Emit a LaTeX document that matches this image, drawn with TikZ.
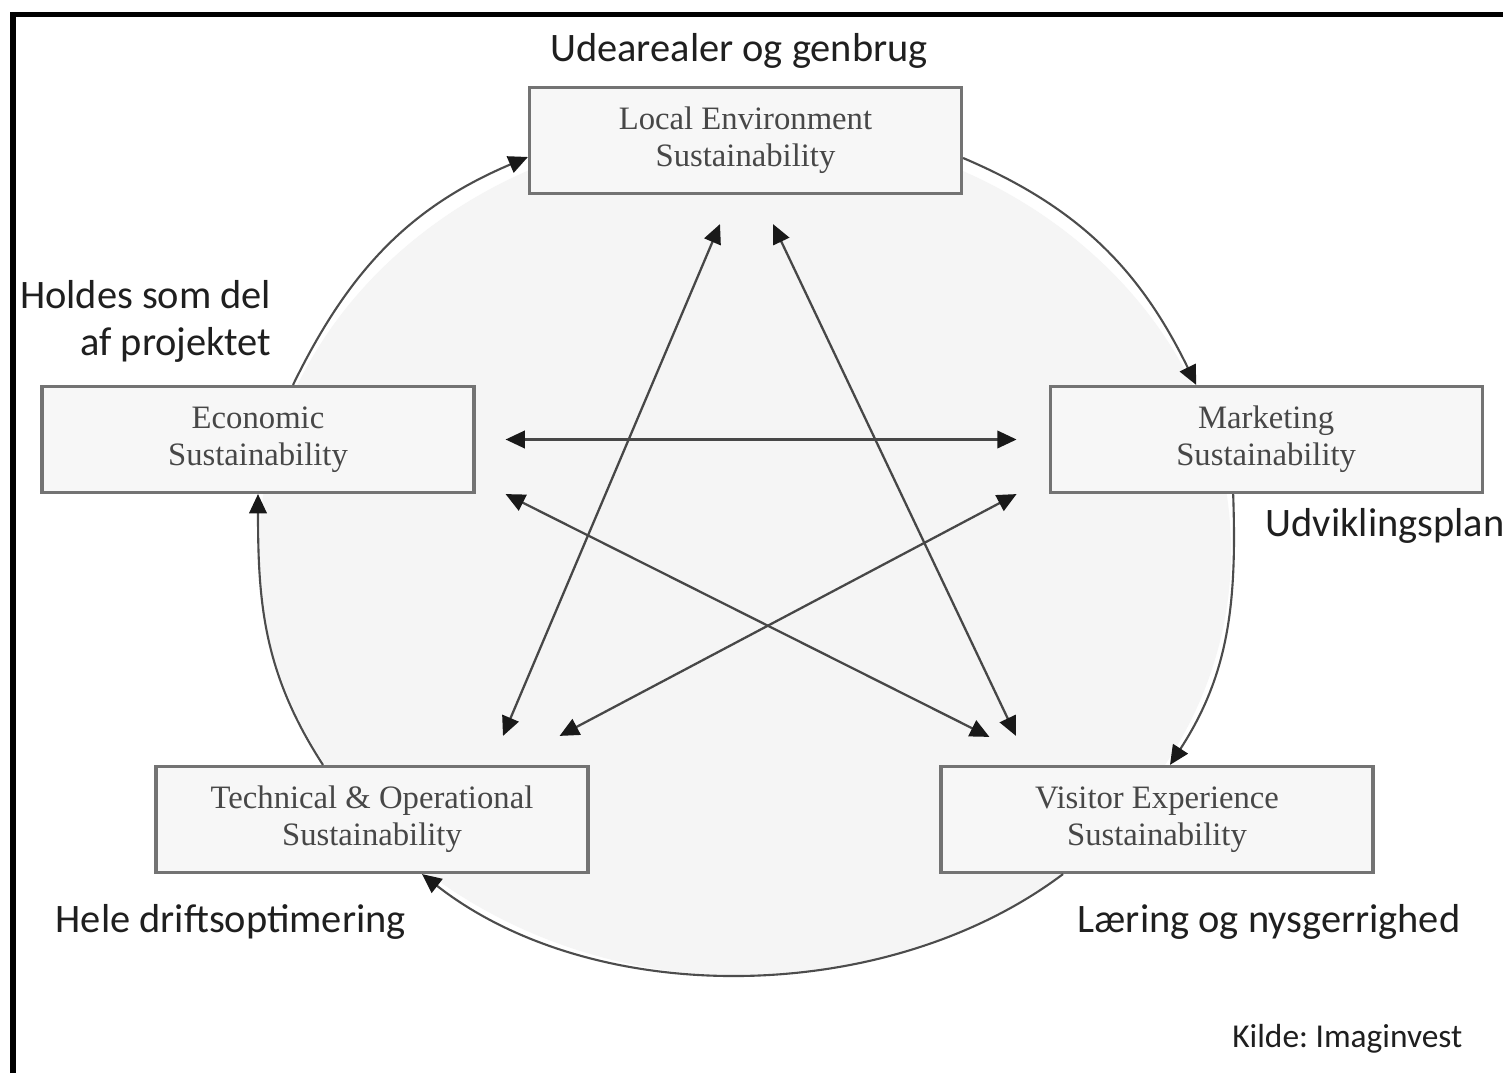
\documentclass[tikz,border=0pt]{standalone}
\usepackage{fontspec}
\setmainfont{Liberation Serif}
\newfontfamily\notefont{Carlito}
\frenchspacing
\usetikzlibrary{arrows.meta, positioning}
\tikzset{> = { Triangle[length = 5.5pt, width = 5pt, color = black!90] }}

\begin{document}
\begin{tikzpicture}[
		box/.style = { draw = black!55, line width = 0.9pt, fill = black!3, minimum width = 4.32cm, minimum height = 1.06cm, inner sep = 0pt, align = center, text = black!72, font = \fontsize{9.3}{10.6}\selectfont },
		loopedge/.style = { ->, draw = black!70, line width = 0.6pt },
		link/.style = { <->, draw = black!72, line width = 0.65pt },
		note/.style = { inner sep = 0pt, text = black!88, font = \notefont\fontsize{11.5}{13.6}\selectfont }]
		\useasboundingbox (0, 0) rectangle (15.03, 10.73);
		\fill [white] (0, 0) rectangle (15.03, 10.73);
		\fill [black!4] (7.45, 5.22) ellipse [x radius = 4.86, y radius = 4.25];

		\node [box]                    (env)   at (7.455, 9.325) {Local Environment\\Sustainability};
		\node [box]                    (econ)  at (2.58, 6.335)  {Economic\\Sustainability};
		\node [box, right = 5.73 of econ] (mark)               {Marketing\\Sustainability};
		\node [box]                    (tech)  at (3.72, 2.535)  {Technical \& Operational\\Sustainability};
		\node [box]                    (visit) at (11.57, 2.535) {Visitor Experience\\Sustainability};

		\draw [loopedge] ([xshift = 0.35cm]econ.north) to [out = 64, in = 203] ([yshift = -0.165cm]env.west);
		\draw [loopedge] ([yshift = -0.175cm]env.east) to [out = -23, in = 116] ([xshift = -0.70cm]mark.north);
		\draw [loopedge] ([xshift = -0.33cm]mark.south) to [out = -88, in = 57] ([xshift = 0.13cm]visit.north);
		\draw [loopedge] ([xshift = -0.94cm]visit.south) to [out = 217, in = -38, looseness = 0.88] ([xshift = 0.50cm]tech.south);
		\draw [loopedge] ([xshift = -0.49cm]tech.north) to [out = 123, in = -90] (econ.south);

		\draw [link] ([xshift = 0.30cm]econ.east) -- ([xshift = -0.32cm]mark.west);
		\draw [link] ([xshift = -0.255cm, yshift = -0.29cm]env.south) -- ([xshift = 1.31cm, yshift = 0.29cm]tech.north);
		\draw [link] ([xshift = 0.275cm, yshift = -0.29cm]env.south) -- ([xshift = -1.41cm, yshift = 0.29cm]visit.north);
		\draw [link] ([xshift = 0.30cm]econ.south east) -- ([xshift = 0.50cm, yshift = 0.28cm]visit.north west);
		\draw [link] ([xshift = -0.32cm]mark.south west) -- ([xshift = -0.30cm, yshift = 0.29cm]tech.north east);

		\node [note, anchor = base]                     (reuse)   at (7.39, 10.11) {Udearealer og genbrug};
		\node [note, anchor = base east, align = right] (project) at (2.72, 7.17)  {Holdes som del\\af projektet};
		\node [note, anchor = base west]                (plan)    at (12.65, 5.36) {Udviklingsplan};
		\node [note, anchor = base west]                (drift)   at (0.55, 1.41)  {Hele driftsoptimering};
		\node [note, anchor = base west]                (learn)   at (10.77, 1.41) {Læring og nysgerrighed};
		\node [note, anchor = base east, font = \notefont\fontsize{9.5}{11}\selectfont] (source) at (14.63, 0.26) {Kilde: Imaginvest};

		\draw [line width = 1.5pt] (0.13, 0) -- (0.13, 10.585) -- (15.03, 10.585);
	\end{tikzpicture}
\end{document}
